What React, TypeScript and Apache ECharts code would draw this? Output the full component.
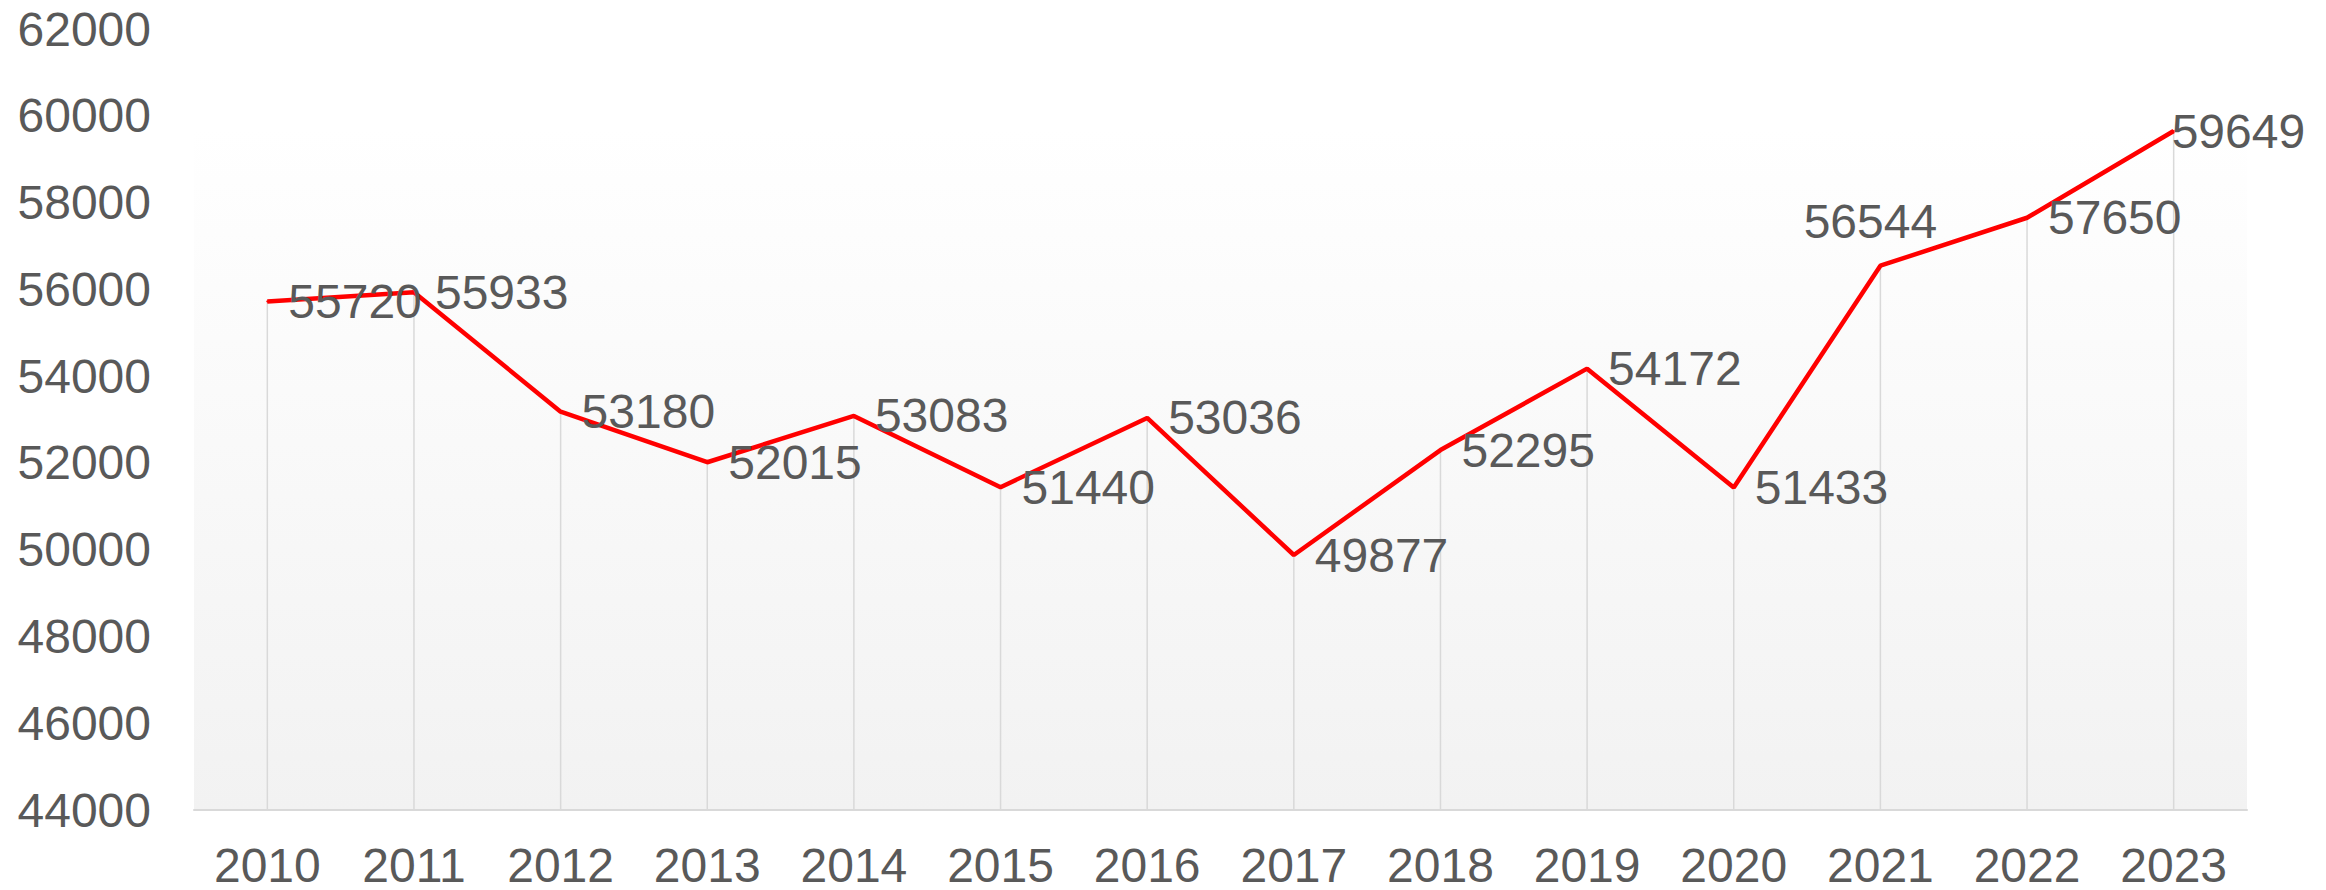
import React, { useEffect, useRef } from "react";
import * as echarts from "echarts";

const years = ["2010", "2011", "2012", "2013", "2014", "2015", "2016", "2017", "2018", "2019", "2020", "2021", "2022", "2023"];
const values = [55720, 55933, 53180, 52015, 53083, 51440, 53036, 49877, 52295, 54172, 51433, 56544, 57650, 59649];
const yMin = 44000;
const yMax = 62000;
const yStep = 2000;
const backgroundTop = 59700;

export default function App() {
  const ref = useRef<HTMLDivElement>(null);
  useEffect(() => {
    if (!ref.current) return;
    const chart = echarts.init(ref.current, undefined, { renderer: "svg" });
    const font = "'Liberation Sans', Arial, sans-serif";
    const lineData = values.map((v, i) => {
      if (years[i] === "2021")
        return { value: v, label: { position: [-9, -19], align: "center", verticalAlign: "bottom" } };
      if (years[i] === "2023") return { value: v, label: { distance: -3 } };
      return v;
    });
    chart.setOption({
      animation: false,
      backgroundColor: "#ffffff",
      grid: { left: 194, right: 79, top: 29, bottom: 80, containLabel: false },
      xAxis: {
        type: "category",
        data: years,
        boundaryGap: true,
        axisLine: { show: true, lineStyle: { color: "#d9d9d9", width: 2 } },
        axisTick: { show: false },
        axisLabel: { color: "#595959", fontSize: 48, lineHeight: 40, fontFamily: font, margin: 35 },
        splitLine: { show: false },
      },
      yAxis: {
        type: "value",
        min: yMin,
        max: yMax,
        interval: yStep,
        axisLine: { show: false },
        axisTick: { show: false },
        splitLine: { show: false },
        axisLabel: {
          color: "#595959",
          fontSize: 48,
          fontFamily: font,
          margin: 43,
          formatter: (v: number) => String(v),
        },
      },
      series: [
        {
          type: "custom",
          z: 1,
          silent: true,
          data: values.map((v, i) => [i, v]),
          renderItem: (params: any, api: any) => {
            const p1 = api.coord([api.value(0), api.value(1)]);
            const p0 = api.coord([api.value(0), yMin]);
            return {
              type: "line",
              shape: { x1: p1[0], y1: p1[1], x2: p0[0], y2: p0[1] },
              style: { stroke: "#d9d9d9", lineWidth: 1.5 },
            };
          },
        },
        {
          type: "line",
          z: 3,
          data: lineData,
          showSymbol: true,
          showAllSymbol: true,
          symbol: "circle",
          symbolSize: 2,
          itemStyle: { color: "#ff0000" },
          lineStyle: { color: "#ff0000", width: 4.5 },
          label: {
            show: true,
            position: "right",
            distance: 20,
            color: "#595959",
            fontSize: 48,
            fontFamily: font,
            formatter: (p: any) => String(p.value),
          },
          labelLayout: { hideOverlap: false },
          markArea: {
            silent: true,
            z: 0,
            itemStyle: {
              color: new echarts.graphic.LinearGradient(0, 0, 0, 1, [
                { offset: 0, color: "#ffffff" },
                { offset: 1, color: "#f2f2f2" },
              ]),
            },
            data: [[{ yAxis: backgroundTop }, { yAxis: yMin }]],
          },
        },
      ],
    });
    return () => chart.dispose();
  }, []);
  return <div ref={ref} style={{ position: "fixed", left: 0, top: 0, width: 2326, height: 890 }} />;
}
